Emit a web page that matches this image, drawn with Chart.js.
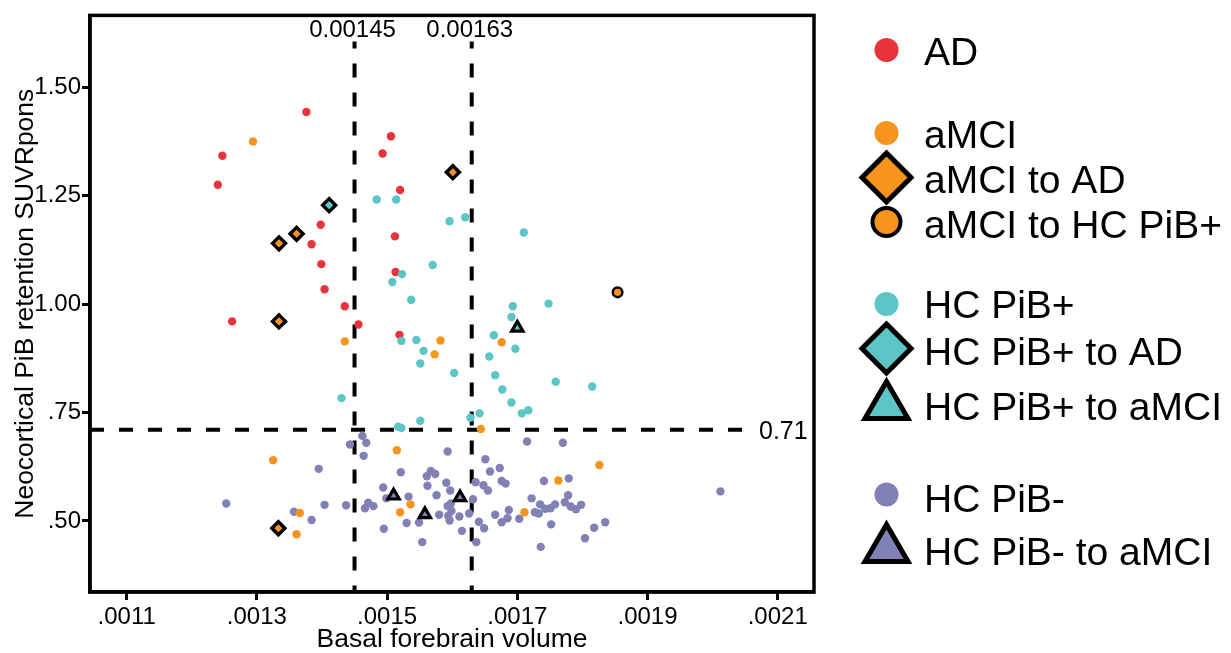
<!DOCTYPE html>
<html lang="en">
<head>
  <meta charset="UTF-8">
  <title>Basal forebrain volume vs neocortical PiB retention</title>
  <script src="https://cdn.jsdelivr.net/npm/chart.js"></script>
  <style>
    body { margin: 0; background: #fff; }
    canvas { display: block; }
  </style>
</head>
<body>
  <canvas id="scatter" width="1231" height="653"></canvas>
  <script>
    // Group colours
    const RED = '#E8333A';
    const ORANGE = '#F7941D';
    const TEAL = '#5CC5C6';
    const PURPLE = '#8181B6';

    // AD
    const adX = [0.001376, 0.001247, 0.00124, 0.001506, 0.001493, 0.00152, 0.001398, 0.001384,
                 0.001512, 0.001399, 0.001513, 0.001404, 0.001435, 0.001262, 0.001456, 0.001519];
    const adY = [1.443, 1.342, 1.275, 1.387, 1.347, 1.263, 1.183, 1.138,
                 1.156, 1.092, 1.074, 1.034, 0.995, 0.960, 0.953, 0.929];

    // aMCI (stable)
    const amciX = [0.001294, 0.001435, 0.001582, 0.001573, 0.001676, 0.001644, 0.001515, 0.001325,
                   0.001826, 0.001763, 0.001536, 0.00152, 0.001366, 0.001361, 0.001711];
    const amciY = [1.375, 0.914, 0.916, 0.884, 0.912, 0.712, 0.663, 0.640,
                   0.629, 0.593, 0.538, 0.520, 0.518, 0.469, 0.520];

    // aMCI converters
    const amciToAdX = [0.001601, 0.001361, 0.001334, 0.001334, 0.001333];
    const amciToAdY = [1.304, 1.162, 1.140, 0.960, 0.483];
    const amciToHcPosX = [0.001854];
    const amciToHcPosY = [1.027];

    // HC PiB+
    const hcPosX = [0.001484, 0.001514, 0.001596, 0.00162, 0.00171, 0.00157, 0.001523, 0.001508,
                    0.001537, 0.001748, 0.001693, 0.001691, 0.001522, 0.001545, 0.001556, 0.001551,
                    0.001603, 0.001664, 0.001697, 0.001657, 0.001666, 0.001677, 0.001691, 0.001707,
                    0.001717, 0.001759, 0.001815, 0.001642, 0.001628, 0.001551, 0.001517, 0.001522,
                    0.00143];
    const hcPosY = [1.241, 1.241, 1.191, 1.200, 1.165, 1.090, 1.069, 1.051,
                    1.010, 1.001, 0.995, 0.970, 0.915, 0.917, 0.892, 0.863,
                    0.841, 0.928, 0.897, 0.879, 0.836, 0.803, 0.773, 0.748,
                    0.755, 0.821, 0.810, 0.748, 0.738, 0.731, 0.717, 0.714,
                    0.783];
    const hcPosToAdX = [0.001411];
    const hcPosToAdY = [1.228];
    const hcPosToAmciX = [0.0017];
    const hcPosToAmciY = [0.945];

    // HC PiB-
    const hcNegX = [0.001253, 0.001357, 0.001384, 0.001395, 0.001404, 0.001437, 0.001443, 0.001462,
                    0.001468, 0.001464, 0.001471, 0.001479, 0.001466, 0.001495, 0.001494, 0.001499,
                    0.001521, 0.001533, 0.00153, 0.001549, 0.001554, 0.001561, 0.001567, 0.001574,
                    0.001562, 0.001576, 0.00158, 0.001593, 0.001591, 0.001597, 0.001598, 0.001593,
                    0.001594, 0.001596, 0.001611, 0.001615, 0.001626, 0.001632, 0.001636, 0.001637,
                    0.001641, 0.001649, 0.001648, 0.001655, 0.001651, 0.001658, 0.001673, 0.001676,
                    0.001682, 0.001666, 0.001676, 0.001685, 0.001687, 0.001703, 0.001715, 0.001722,
                    0.001727, 0.001733, 0.001735, 0.001736, 0.001741, 0.001743, 0.001751, 0.001752,
                    0.001758, 0.00177, 0.001773, 0.001778, 0.001779, 0.001782, 0.00179, 0.001798,
                    0.001804, 0.001818, 0.001835, 0.002012, 0.001599];
    const hcNegY = [0.540, 0.521, 0.502, 0.620, 0.537, 0.536, 0.676, 0.696,
                    0.680, 0.650, 0.542, 0.534, 0.529, 0.482, 0.577, 0.552,
                    0.612, 0.556, 0.495, 0.496, 0.451, 0.603, 0.615, 0.608,
                    0.581, 0.559, 0.514, 0.660, 0.588, 0.570, 0.540, 0.534,
                    0.512, 0.501, 0.510, 0.477, 0.517, 0.550, 0.589, 0.451,
                    0.498, 0.483, 0.582, 0.570, 0.642, 0.614, 0.622, 0.592,
                    0.586, 0.514, 0.497, 0.506, 0.525, 0.505, 0.683, 0.552,
                    0.520, 0.517, 0.538, 0.440, 0.592, 0.528, 0.529, 0.492,
                    0.538, 0.680, 0.543, 0.559, 0.598, 0.533, 0.527, 0.537,
                    0.460, 0.484, 0.497, 0.568, 0.523];
    const hcNegToAmciX = [0.00151, 0.001558, 0.001612];
    const hcNegToAmciY = [0.558, 0.515, 0.554];

    // Axes and cut-offs
    const xTicks = [0.0011, 0.0013, 0.0015, 0.0017, 0.0019, 0.0021];
    const yTicks = [0.50, 0.75, 1.00, 1.25, 1.50];
    const xCutoffs = [0.00145, 0.00163];
    const yCutoff = 0.71;

    const FONT = '"Liberation Sans", Arial, sans-serif';

    const pts = (xs, ys) => xs.map((x, i) => ({ x, y: ys[i] }));

    function dot(label, xs, ys, color) {
      return { label, data: pts(xs, ys), pointStyle: 'circle', pointRadius: 4.2,
               pointBackgroundColor: color, pointBorderWidth: 0 };
    }
    function marker(label, xs, ys, color, style, r, bw) {
      return { label, data: pts(xs, ys), pointStyle: style, pointRadius: r,
               pointBackgroundColor: color, pointBorderColor: '#000', pointBorderWidth: bw };
    }

    // first dataset is painted last (on top)
    const datasets = [
      marker('HC PiB- to aMCI', hcNegToAmciX, hcNegToAmciY, PURPLE, 'triangle', 6.5, 3.2),
      marker('HC PiB+ to aMCI', hcPosToAmciX, hcPosToAmciY, TEAL, 'triangle', 6.5, 3.2),
      marker('HC PiB+ to AD', hcPosToAdX, hcPosToAdY, TEAL, 'rectRot', 6.5, 3.4),
      marker('aMCI to AD', amciToAdX, amciToAdY, ORANGE, 'rectRot', 6.5, 3.4),
      marker('aMCI to HC PiB+', amciToHcPosX, amciToHcPosY, ORANGE, 'circle', 4.8, 2.5),
      dot('aMCI', amciX, amciY, ORANGE),
      dot('HC PiB+', hcPosX, hcPosY, TEAL),
      dot('AD', adX, adY, RED),
      dot('HC PiB-', hcNegX, hcNegY, PURPLE)
    ];

    // legend rows: marker centre y, text baseline y
    const legendRows = [
      { label: 'AD', shape: 'dot', color: RED, my: 50, ty: 65 },
      { label: 'aMCI', shape: 'dot', color: ORANGE, my: 133, ty: 148 },
      { label: 'aMCI to AD', shape: 'diamond', color: ORANGE, my: 177.5, ty: 193 },
      { label: 'aMCI to HC PiB+', shape: 'ring', color: ORANGE, my: 222, ty: 238 },
      { label: 'HC PiB+', shape: 'dot', color: TEAL, my: 304, ty: 318 },
      { label: 'HC PiB+ to AD', shape: 'diamond', color: TEAL, my: 348.5, ty: 365 },
      { label: 'HC PiB+ to aMCI', shape: 'triangle', color: TEAL, my: 400, ty: 420 },
      { label: 'HC PiB-', shape: 'dot', color: PURPLE, my: 494.5, ty: 512 },
      { label: 'HC PiB- to aMCI', shape: 'triangle', color: PURPLE, my: 543, ty: 565 }
    ];

    const cutoffLines = {
      id: 'cutoffLines',
      beforeDatasetsDraw(chart) {
        const { ctx, chartArea: a, scales: { x, y } } = chart;
        ctx.save();
        ctx.strokeStyle = '#000';
        ctx.lineWidth = 4;
        ctx.setLineDash([14, 15]);
        ctx.fillStyle = '#000';
        ctx.font = '24px ' + FONT;
        ctx.textBaseline = 'alphabetic';
        xCutoffs.forEach(v => {
          const px = x.getPixelForValue(v);
          ctx.lineDashOffset = 7;
          ctx.beginPath();
          ctx.moveTo(px, a.top + 26);
          ctx.lineTo(px, a.bottom);
          ctx.stroke();
          ctx.textAlign = 'center';
          ctx.fillText(String(v), px - 2, a.top + 22);
        });
        const py = y.getPixelForValue(yCutoff);
        const endX = a.right - 62;
        ctx.lineDashOffset = 0;
        ctx.beginPath();
        ctx.moveTo(a.left, py);
        ctx.lineTo(endX, py);
        ctx.stroke();
        ctx.textAlign = 'left';
        ctx.font = '25px ' + FONT;
        ctx.fillText(String(yCutoff), endX + 7, py + 9);
        ctx.restore();
      }
    };

    const frameAndText = {
      id: 'frameAndText',
      afterDraw(chart) {
        const { ctx, chartArea: a } = chart;
        ctx.save();
        // box around the plot
        ctx.strokeStyle = '#000';
        ctx.lineWidth = 3.5;
        ctx.setLineDash([]);
        ctx.strokeRect(a.left, a.top, a.right - a.left, a.bottom - a.top);

        // axis titles
        ctx.fillStyle = '#000';
        ctx.font = '26.5px ' + FONT;
        ctx.textAlign = 'center';
        ctx.textBaseline = 'alphabetic';
        ctx.fillText('Basal forebrain volume', (a.left + a.right) / 2, 647);
        ctx.save();
        ctx.translate(33, (a.top + a.bottom) / 2);
        ctx.rotate(-Math.PI / 2);
        ctx.fillText('Neocortical PiB retention SUVRpons', 0, 0);
        ctx.restore();

        // legend
        const cx = 886.5;
        ctx.lineJoin = 'miter';
        legendRows.forEach(r => {
          ctx.fillStyle = r.color;
          ctx.strokeStyle = '#000';
          ctx.beginPath();
          if (r.shape === 'dot') {
            ctx.arc(cx, r.my, 12, 0, Math.PI * 2);
            ctx.fill();
          } else if (r.shape === 'ring') {
            ctx.lineWidth = 4;
            ctx.arc(cx, r.my, 14, 0, Math.PI * 2);
            ctx.fill();
            ctx.stroke();
          } else if (r.shape === 'diamond') {
            const h = 24.5;
            ctx.lineWidth = 5;
            ctx.moveTo(cx, r.my - h);
            ctx.lineTo(cx + h, r.my);
            ctx.lineTo(cx, r.my + h);
            ctx.lineTo(cx - h, r.my);
            ctx.closePath();
            ctx.fill();
            ctx.stroke();
          } else {
            const top = r.my - 18.5, bot = r.my + 18.5, hw = 21.5;
            ctx.lineWidth = 5;
            ctx.moveTo(cx, top);
            ctx.lineTo(cx + hw, bot);
            ctx.lineTo(cx - hw, bot);
            ctx.closePath();
            ctx.fill();
            ctx.stroke();
          }
          ctx.fillStyle = '#000';
          ctx.font = '39px ' + FONT;
          ctx.textAlign = 'left';
          ctx.fillText(r.label, 924, r.ty);
        });
        ctx.restore();
      }
    };

    new Chart(document.getElementById('scatter'), {
      type: 'scatter',
      data: { datasets },
      options: {
        responsive: false,
        animation: false,
        events: [],
        devicePixelRatio: 1,
        layout: { padding: { left: 0, top: 11, right: 417, bottom: 0 } },
        plugins: { legend: { display: false }, tooltip: { enabled: false } },
        scales: {
          x: {
            type: 'linear',
            min: 0.0010437,
            max: 0.0021557,
            afterFit: s => { s.height = 61; },
            afterBuildTicks: s => { s.ticks = xTicks.map(v => ({ value: v })); },
            grid: { drawOnChartArea: false, drawTicks: true, tickLength: 8, tickWidth: 3, tickColor: '#000' },
            border: { display: true, width: 3.5, color: '#000' },
            ticks: {
              autoSkip: false, maxRotation: 0, padding: 3, color: '#000',
              font: { family: FONT, size: 24 },
              callback: v => v.toFixed(4).replace(/^0/, '')
            }
          },
          y: {
            type: 'linear',
            min: 0.336,
            max: 1.6656,
            afterFit: s => { s.width = 90; },
            afterBuildTicks: s => { s.ticks = yTicks.map(v => ({ value: v })); },
            grid: { drawOnChartArea: false, drawTicks: true, tickLength: 8, tickWidth: 3, tickColor: '#000' },
            border: { display: true, width: 3.5, color: '#000' },
            ticks: {
              autoSkip: false, padding: 1, color: '#000',
              font: { family: FONT, size: 24 },
              callback: v => v < 1 ? v.toFixed(2).replace(/^0/, '') : v.toFixed(2)
            }
          }
        }
      },
      plugins: [cutoffLines, frameAndText]
    });
  </script>
</body>
</html>
